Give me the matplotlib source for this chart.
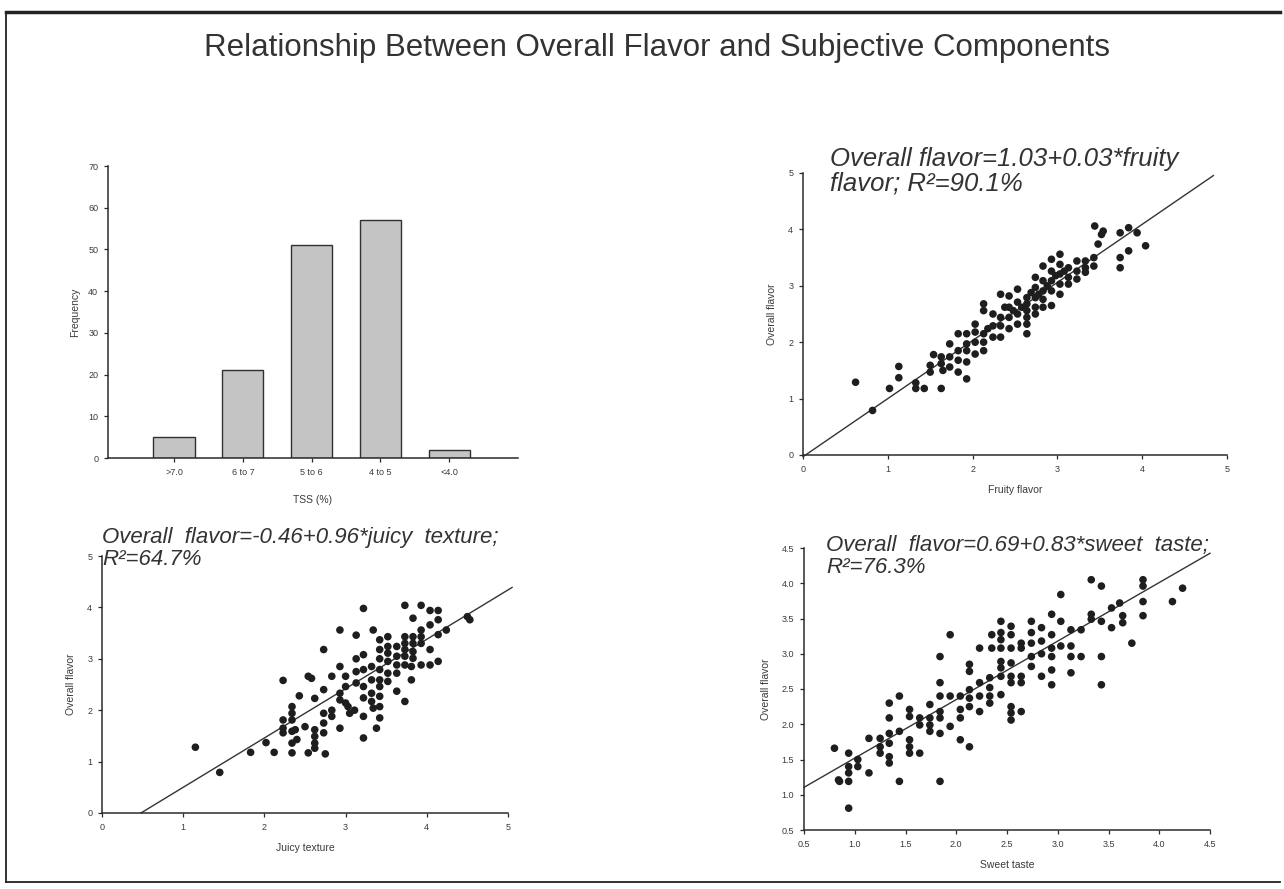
import matplotlib.pyplot as plt
from matplotlib.lines import Line2D

# TSS histogram
tss_bins = [">7.0", "6 to 7", "5 to 6", "4 to 5", "<4.0"]
tss_freq = [5, 21, 51, 57, 2]

# Overall flavor vs fruity flavor
fruity_x = [0.62, 0.82, 1.02, 1.13, 1.13, 1.33, 1.33, 1.43, 1.50, 1.50, 1.54, 1.63,
            1.63, 1.63, 1.65, 1.73, 1.73, 1.73, 1.83, 1.83, 1.83, 1.83, 1.93, 1.93,
            1.93, 1.93, 1.93, 2.03, 2.03, 2.03, 2.03, 2.13, 2.13, 2.13, 2.13, 2.13,
            2.24, 2.24, 2.24, 2.33, 2.33, 2.33, 2.33, 2.43, 2.43, 2.43, 2.43, 2.53,
            2.53, 2.53, 2.53, 2.64, 2.64, 2.64, 2.64, 2.64, 2.64, 2.74, 2.74, 2.74,
            2.74, 2.74, 2.83, 2.83, 2.83, 2.83, 2.83, 2.93, 2.93, 2.93, 2.93, 2.93,
            3.03, 3.03, 3.03, 3.03, 3.03, 3.13, 3.13, 3.13, 3.23, 3.23, 3.23, 3.33,
            3.33, 3.33, 3.43, 3.43, 3.44, 3.48, 3.52, 3.54, 3.74, 3.74, 3.74, 3.84,
            3.84, 3.94, 4.04, 2.58, 2.69, 2.78, 2.88, 2.98, 3.08, 2.48, 2.38, 2.18]
fruity_y = [1.29, 0.79, 1.18, 1.57, 1.37, 1.28, 1.18, 1.18, 1.47, 1.59, 1.78, 1.18,
            1.74, 1.62, 1.50, 1.97, 1.74, 1.56, 2.15, 1.85, 1.68, 1.47, 2.15, 1.97,
            1.85, 1.65, 1.35, 2.32, 2.18, 2.00, 1.79, 2.68, 2.56, 2.15, 2.00, 1.85,
            2.50, 2.29, 2.09, 2.85, 2.44, 2.29, 2.09, 2.82, 2.62, 2.44, 2.24, 2.94,
            2.71, 2.50, 2.32, 2.79, 2.68, 2.56, 2.44, 2.32, 2.15, 3.15, 2.97, 2.79,
            2.62, 2.50, 3.35, 3.09, 2.91, 2.76, 2.62, 3.47, 3.26, 3.09, 2.91, 2.65,
            3.56, 3.38, 3.21, 3.03, 2.85, 3.32, 3.15, 3.03, 3.44, 3.26, 3.12, 3.44,
            3.32, 3.24, 3.50, 3.35, 4.06, 3.74, 3.91, 3.97, 3.94, 3.50, 3.32, 4.03,
            3.62, 3.94, 3.71, 2.62, 2.88, 2.85, 3.00, 3.18, 3.26, 2.56, 2.62, 2.24]

# Overall flavor vs juicy texture
juicy_x = [1.15, 1.45, 1.83, 2.02, 2.12, 2.23, 2.23, 2.23, 2.23, 2.34, 2.34, 2.34,
           2.34, 2.34, 2.34, 2.38, 2.40, 2.43, 2.50, 2.54, 2.58, 2.54, 2.62, 2.62,
           2.62, 2.62, 2.62, 2.73, 2.73, 2.73, 2.73, 2.73, 2.75, 2.83, 2.83, 2.83,
           2.93, 2.93, 2.93, 2.93, 2.93, 3.00, 3.00, 3.00, 3.03, 3.05, 3.11, 3.13,
           3.13, 3.13, 3.13, 3.22, 3.22, 3.22, 3.22, 3.22, 3.22, 3.22, 3.32, 3.32,
           3.32, 3.32, 3.34, 3.34, 3.38, 3.42, 3.42, 3.42, 3.42, 3.42, 3.42, 3.42,
           3.42, 3.42, 3.52, 3.52, 3.52, 3.52, 3.52, 3.52, 3.63, 3.63, 3.63, 3.63,
           3.63, 3.73, 3.73, 3.73, 3.73, 3.73, 3.73, 3.73, 3.81, 3.81, 3.83, 3.83,
           3.83, 3.83, 3.83, 3.93, 3.93, 3.93, 3.93, 3.93, 4.04, 4.04, 4.04, 4.04,
           4.14, 4.14, 4.14, 4.14, 4.24, 4.50, 4.53]
juicy_y = [1.28, 0.79, 1.18, 1.37, 1.18, 2.58, 1.81, 1.65, 1.56, 2.07, 1.94, 1.81,
           1.59, 1.36, 1.17, 1.62, 1.43, 2.28, 1.68, 2.66, 2.62, 1.17, 2.23, 1.62,
           1.49, 1.36, 1.26, 3.18, 2.40, 1.94, 1.75, 1.56, 1.15, 2.66, 2.00, 1.88,
           3.56, 2.85, 2.33, 2.20, 1.65, 2.66, 2.46, 2.14, 2.07, 1.94, 2.00, 3.46,
           3.00, 2.75, 2.53, 3.98, 3.08, 2.79, 2.46, 2.24, 1.88, 1.46, 2.85, 2.59,
           2.33, 2.17, 3.56, 2.04, 1.65, 3.37, 3.18, 3.00, 2.79, 2.59, 2.46, 2.27,
           2.07, 1.85, 3.43, 3.24, 3.11, 2.95, 2.72, 2.56, 3.24, 3.05, 2.88, 2.72,
           2.37, 4.04, 3.43, 3.30, 3.18, 3.05, 2.88, 2.17, 2.85, 2.59, 3.79, 3.43,
           3.30, 3.14, 3.01, 4.04, 3.56, 3.43, 3.30, 2.88, 3.94, 3.66, 3.18, 2.88,
           3.94, 3.76, 3.47, 2.95, 3.56, 3.82, 3.76]

# Overall flavor vs sweet taste
sweet_x = [0.80, 0.84, 0.85, 0.94, 0.94, 0.94, 0.94, 0.94, 1.03, 1.03, 1.14, 1.14,
           1.25, 1.25, 1.25, 1.34, 1.34, 1.34, 1.34, 1.34, 1.34, 1.44, 1.44, 1.44,
           1.54, 1.54, 1.54, 1.54, 1.54, 1.64, 1.64, 1.64, 1.74, 1.74, 1.74, 1.74,
           1.84, 1.84, 1.84, 1.84, 1.84, 1.84, 1.84, 1.94, 1.94, 1.94, 2.04, 2.04,
           2.04, 2.04, 2.13, 2.13, 2.13, 2.13, 2.13, 2.13, 2.23, 2.23, 2.23, 2.23,
           2.33, 2.33, 2.33, 2.33, 2.35, 2.35, 2.44, 2.44, 2.44, 2.44, 2.44, 2.44,
           2.44, 2.44, 2.54, 2.54, 2.54, 2.54, 2.54, 2.54, 2.54, 2.54, 2.54, 2.64,
           2.64, 2.64, 2.64, 2.64, 2.74, 2.74, 2.74, 2.74, 2.74, 2.84, 2.84, 2.84,
           2.84, 2.94, 2.94, 2.94, 2.94, 2.94, 2.94, 3.03, 3.03, 3.03, 3.13, 3.13,
           3.13, 3.13, 3.23, 3.23, 3.33, 3.33, 3.33, 3.43, 3.43, 3.43, 3.43, 3.53,
           3.53, 3.61, 3.64, 3.64, 3.73, 3.84, 3.84, 3.84, 3.84, 4.13, 4.23]
sweet_y = [1.66, 1.21, 1.19, 1.59, 1.40, 1.31, 1.19, 0.81, 1.50, 1.40, 1.80, 1.31,
           1.80, 1.68, 1.59, 2.30, 2.09, 1.87, 1.73, 1.54, 1.45, 2.40, 1.90, 1.19,
           2.21, 2.11, 1.78, 1.68, 1.59, 2.09, 1.99, 1.59, 2.28, 2.09, 1.99, 1.90,
           2.96, 2.59, 2.40, 2.18, 2.09, 1.87, 1.19, 3.27, 2.40, 1.97, 2.40, 2.21,
           2.09, 1.78, 2.85, 2.75, 2.49, 2.37, 2.25, 1.68, 3.08, 2.59, 2.40, 2.18,
           2.66, 2.52, 2.40, 2.30, 3.27, 3.08, 3.46, 3.30, 3.20, 3.08, 2.89, 2.80,
           2.68, 2.42, 3.39, 3.27, 3.08, 2.87, 2.68, 2.59, 2.25, 2.16, 2.06, 3.15,
           3.08, 2.68, 2.59, 2.18, 3.46, 3.30, 3.15, 2.96, 2.82, 3.37, 3.18, 3.00,
           2.68, 3.56, 3.27, 3.08, 2.96, 2.77, 2.56, 3.84, 3.46, 3.11, 3.34, 3.11,
           2.96, 2.73, 3.34, 2.96, 4.05, 3.56, 3.49, 3.96, 3.46, 2.96, 2.56, 3.65,
           3.37, 3.72, 3.54, 3.44, 3.15, 4.05, 3.96, 3.74, 3.54, 3.74, 3.93]

# fitted lines: (intercept, slope, x start, x end)
fruity_fit = (-0.03, 1.03, 0.0, 4.84)
juicy_fit = (-0.46, 0.96, 0.48, 5.05)
sweet_fit = (0.69, 0.83, 0.5, 4.5)

INK = "#2b2b2b"
TXT = "#3a3a3a"
plt.rcParams["font.family"] = ["Liberation Sans", "DejaVu Sans"]
plt.rcParams["text.color"] = TXT
plt.rcParams["axes.labelcolor"] = TXT
plt.rcParams["xtick.color"] = INK
plt.rcParams["ytick.color"] = INK
plt.rcParams["xtick.labelcolor"] = TXT
plt.rcParams["ytick.labelcolor"] = TXT

fig = plt.figure(figsize=(12.84, 8.89), dpi=100)
W, H = 1284, 889


def px_axes(left, top, right, bottom):
    return fig.add_axes([left / W, 1 - bottom / H, (right - left) / W, (bottom - top) / H])


def style(ax):
    for side in ("top", "right"):
        ax.spines[side].set_visible(False)
    for side in ("left", "bottom"):
        ax.spines[side].set_linewidth(1.1)
        ax.spines[side].set_color(INK)
    ax.tick_params(direction="out", length=3, width=0.9, labelsize=6.5, pad=4)


def scatter_panel(ax, x, y, fit, xlabel):
    ax.scatter(x, y, s=30, color="#1e1e1e", edgecolors="none", zorder=3)
    b0, b1, xs, xe = fit
    ax.plot([xs, xe], [b0 + b1 * xs, b0 + b1 * xe], color="#333333", lw=1.0,
            clip_on=False, zorder=2)
    ax.set_xlabel(xlabel, fontsize=7.5, labelpad=8)
    ax.set_ylabel("Overall flavor", fontsize=7.5, labelpad=8)
    style(ax)


# frame of the slide
fig.add_artist(Line2D([6 / W, 1280 / W], [1 - 12 / H, 1 - 12 / H], color="#222222", lw=2.5))
fig.add_artist(Line2D([6 / W, 6 / W], [1 - 12 / H, 1 - 882 / H], color="#222222", lw=1.3))
fig.add_artist(Line2D([6 / W, 1280 / W], [1 - 882 / H, 1 - 882 / H], color="#222222", lw=1.3))

fig.text(657 / W, 1 - 48 / H, "Relationship Between Overall Flavor and Subjective Components",
         ha="center", va="center", fontsize=22.5, color="#333333")

# TSS bar chart
ax1 = px_axes(108, 166, 518, 458)
ax1.bar(range(len(tss_bins)), tss_freq, width=0.6, color="#c4c4c4",
        edgecolor="#303030", linewidth=1.0)
ax1.set_xlim(-0.96, 5.0)
ax1.set_ylim(0, 70)
ax1.set_yticks(range(0, 71, 10))
ax1.set_xticks(range(len(tss_bins)))
ax1.set_xticklabels(tss_bins)
ax1.set_xlabel("TSS (%)", fontsize=7.5, labelpad=13)
ax1.set_ylabel("Frequency", fontsize=7.5, labelpad=6)
style(ax1)

# fruity flavor
ax2 = px_axes(803, 173, 1227, 455)
scatter_panel(ax2, fruity_x, fruity_y, fruity_fit, "Fruity flavor")
ax2.set_xlim(0, 5)
ax2.set_ylim(0, 5)
ax2.set_xticks(range(6))
ax2.set_yticks(range(6))

# juicy texture
ax3 = px_axes(102, 556, 508, 813)
scatter_panel(ax3, juicy_x, juicy_y, juicy_fit, "Juicy texture")
ax3.set_xlim(0, 5)
ax3.set_ylim(0, 5)
ax3.set_xticks(range(6))
ax3.set_yticks(range(6))

# sweet taste
ax4 = px_axes(804, 548, 1210, 830)
scatter_panel(ax4, sweet_x, sweet_y, sweet_fit, "Sweet taste")
ax4.set_xlim(0.5, 4.5)
ax4.set_ylim(0.5, 4.5)
ticks = [0.5 + 0.5 * i for i in range(9)]
ax4.set_xticks(ticks)
ax4.set_yticks(ticks)
ax4.set_xticklabels([f"{t:.1f}" for t in ticks])
ax4.set_yticklabels([f"{t:.1f}" for t in ticks])

eq_kw = dict(style="italic", color="#333333", linespacing=1.05, va="baseline")
fig.text(830 / W, 1 - 191 / H, "Overall flavor=1.03+0.03*fruity\nflavor; R²=90.1%",
         fontsize=18.5, **eq_kw)
fig.text(102 / W, 1 - 565 / H, "Overall  flavor=-0.46+0.96*juicy  texture;\nR²=64.7%",
         fontsize=16, **eq_kw)
fig.text(826 / W, 1 - 573 / H, "Overall  flavor=0.69+0.83*sweet  taste;\nR²=76.3%",
         fontsize=16, **eq_kw)

fig.savefig("out.png", dpi=100)
